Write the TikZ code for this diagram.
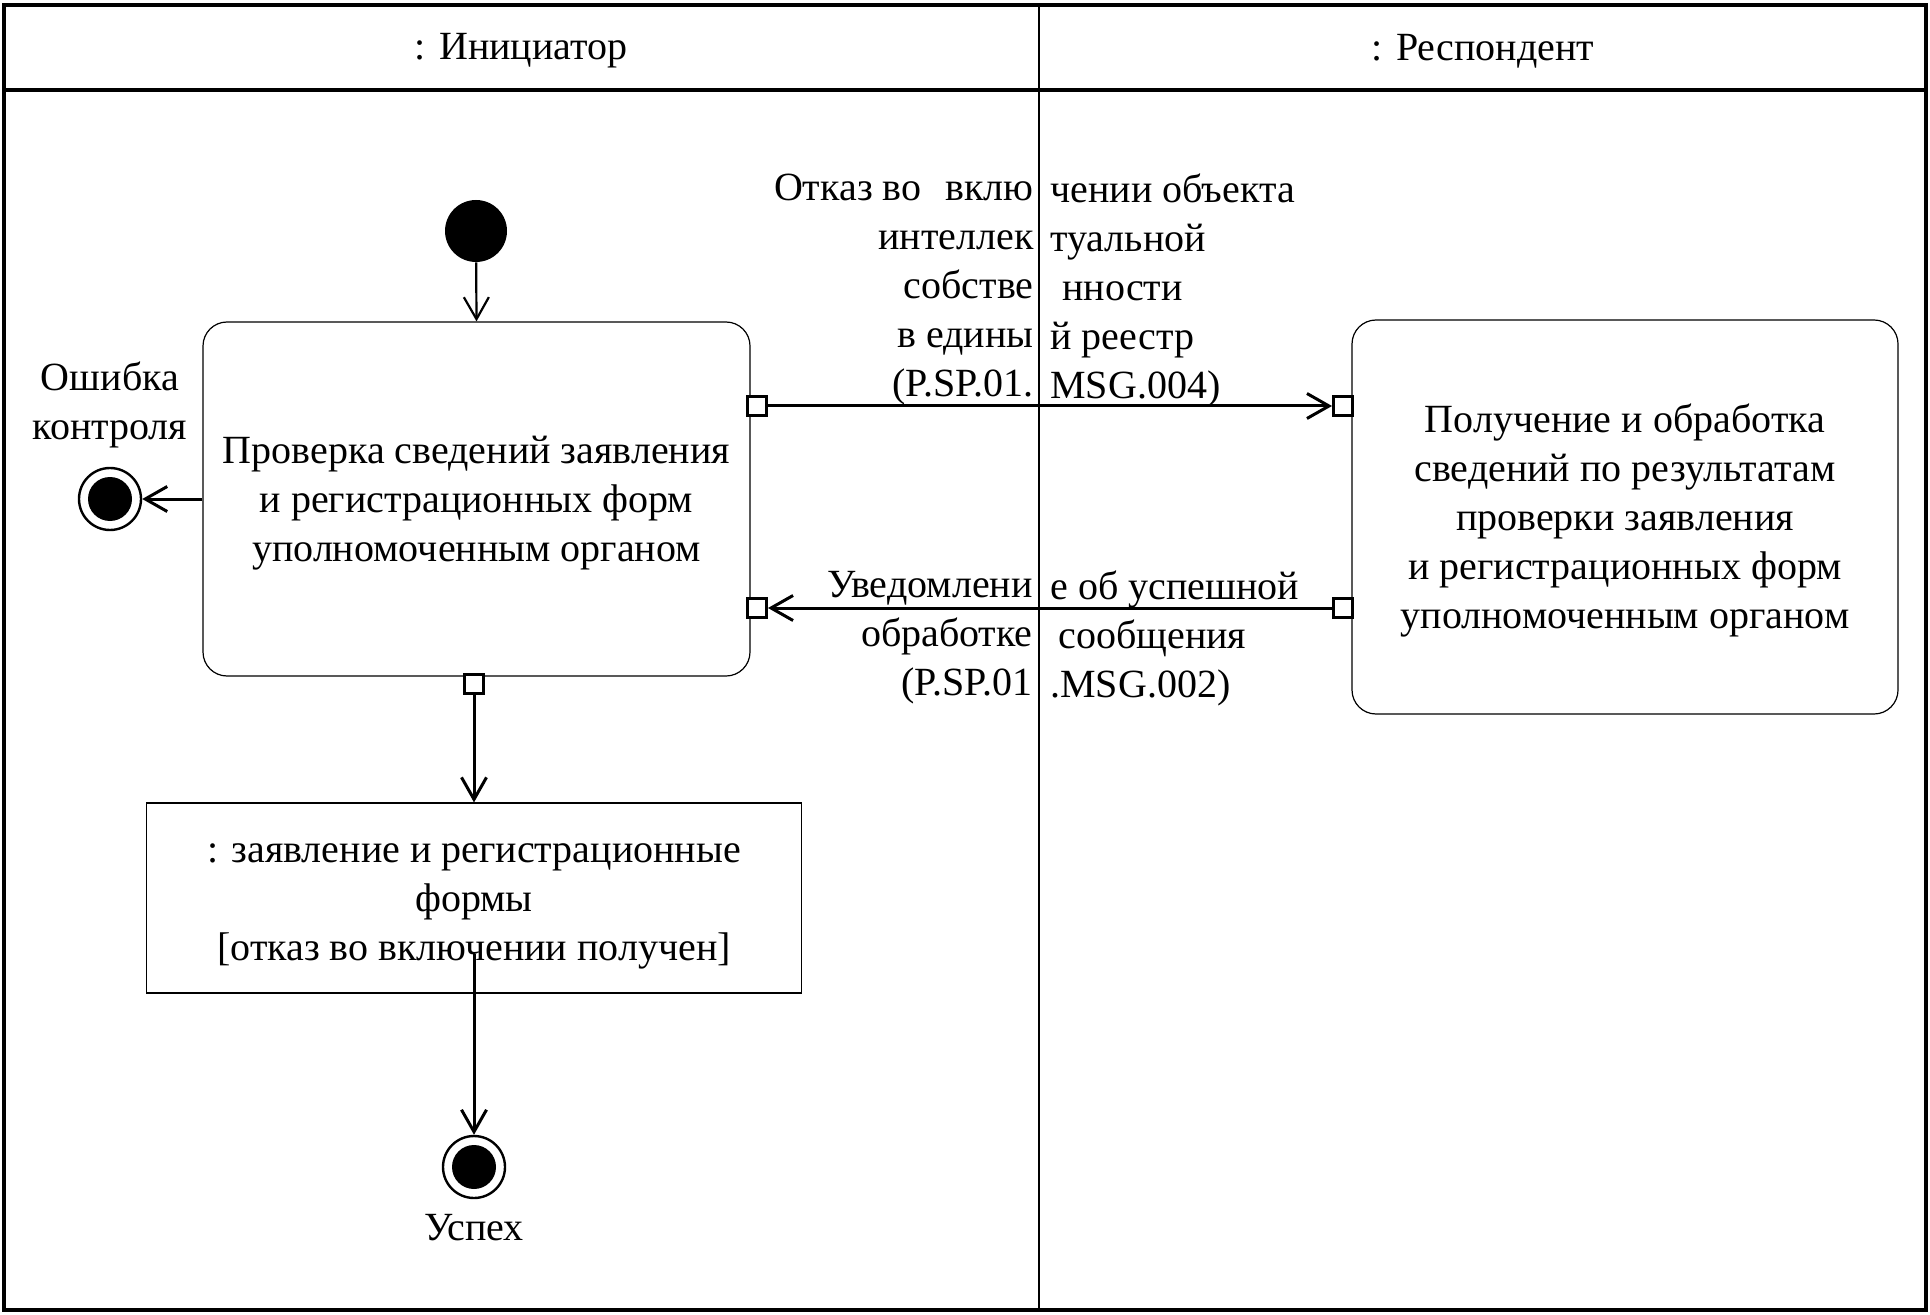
\documentclass[tikz,border=0pt]{standalone}
\usepackage{fontspec}
\setmainfont{Liberation Serif}
\usetikzlibrary{arrows.meta,calc}
\tikzset{
  txt/.style={font=\fontsize{20}{24.5}\selectfont, inner sep=0pt},
  action/.style={draw, line width=0.6pt, rounded corners=12pt, align=center, txt},
  objnode/.style={draw, line width=0.6pt, align=center, txt},
  pinbox/.style={draw, fill=white, line width=1.5pt, minimum size=9.5pt, inner sep=0pt},
  startnode/.style={circle, fill=black, minimum size=31pt, inner sep=0pt},
  endnode/.style={circle, draw, line width=1.2pt, fill=white, minimum size=31pt, inner sep=0pt,
    path picture={\fill[black] (path picture bounding box.center) circle (11pt);}},
  conn/.style={line width=1.5pt, -{Straight Barb[length=11pt,width=12.5pt,line width=1.5pt]}},
  thinconn/.style={line width=1.1pt, -{Straight Barb[length=11pt,width=12.5pt,line width=1.1pt]}},
  frameline/.style={line width=1.8pt},
  laneline/.style={line width=1.4pt},
}
\begin{document}
\begin{tikzpicture}[x=0.5pt,y=-0.5pt]
\useasboundingbox (0,0) rectangle (1930,1315);
% frame and header
\draw[frameline] (4,5) rectangle (1926,1310);
\draw[frameline] (4,90) -- (1926,90);
\node[txt] (h1) at (521,51) {: Инициатор};
\node[txt] (h2) at (1483,51) {: Респондент};

% nodes
\node[startnode] (init) at (476,231) {};
\node[action, minimum width=273.5pt, minimum height=177pt] (box1) at (476.5,499)
  {\rule{0pt}{17.5pt}Проверка сведений заявления\\и регистрационных форм\\уполномоченным органом};
\node[action, minimum width=273pt, minimum height=197pt] (box2) at (1625,517)
  {\rule{0pt}{17.5pt}Получение и обработка\\сведений по результатам\\проверки заявления\\и регистрационных форм\\уполномоченным органом};
\node[objnode, minimum width=327.5pt, minimum height=95pt] (obj) at (474,898)
  {\rule{0pt}{17.5pt}: заявление и регистрационные\\формы\\{[}отказ во включении получен{]}};

\node[pinbox] (p1out) at (757,406) {};
\node[pinbox] (p1in) at (757,608) {};
\node[pinbox] (p1bot) at (474,684) {};
\node[pinbox] (p2in) at (1343,406) {};
\node[pinbox] (p2out) at (1343,608) {};

\node[endnode] (f1) at (110,499) {};
\node[txt, align=center] (l1) at (110,405) {Ошибка\\контроля};
\node[endnode] (f2) at (474,1167) {};
\node[txt] (l2) at (474,1228) {Успех};

% message labels
\node[txt, align=right, anchor=east] (m1l) at (1034,290)
  {Отказ во\hspace{7pt} вклю\\интеллек\\собстве\\в едины\\(P.SP.01.};
\node[txt, align=left, anchor=west] (m1r) at (1050,290)
  {чении объекта\\туальной\\\hspace{6pt}нности\\й реестр\\MSG.004)};
\node[txt, align=right, anchor=east] (m2l) at (1033,638)
  {Уведомлени\\обработке\hspace{4pt}\\(P.SP.01};
\node[txt, align=left, anchor=west] (m2r) at (1050,638)
  {е об успешной\\\hspace{4pt}сообщения\\.MSG.002)};

% connectors
\draw[thinconn] (init) -- (box1.north);
\draw[conn] (box1.west) -- (f1);
\draw[conn] (p1bot) -- (obj.north);
\draw[conn] ([yshift=-28pt]obj.center) -- (f2);
\draw[conn] (p1out) -- (p2in);
\draw[conn] (p2out) -- (p1in);

% lane divider
\draw[laneline] (1039,5) -- (1039,1310);
\end{tikzpicture}
\end{document}
